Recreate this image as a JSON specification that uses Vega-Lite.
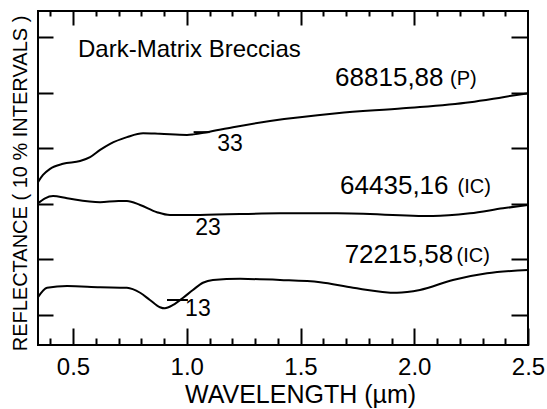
{
  "$schema": "https://vega.github.io/schema/vega-lite/v6.json",
  "autosize": {"type": "none"},
  "padding": {"left": 38, "top": 11, "right": 19, "bottom": 64},
  "width": 490,
  "height": 334,
  "background": "white",
  "config": {
    "font": "Liberation Sans",
    "view": {"stroke": "black", "strokeWidth": 2},
    "axis": {"domain": false, "grid": false, "tickColor": "black", "tickWidth": 2, "labelColor": "black", "titleColor": "black", "labelFont": "Liberation Sans", "titleFont": "Liberation Sans", "titleFontWeight": "normal"}
  },
  "datasets": {
    "curves": [
      {"series": "68815,88", "wl": 0.346, "r": 33.9},
      {"series": "68815,88", "wl": 0.368, "r": 35.2},
      {"series": "68815,88", "wl": 0.399, "r": 36.3},
      {"series": "68815,88", "wl": 0.456, "r": 37.2},
      {"series": "68815,88", "wl": 0.531, "r": 37.7},
      {"series": "68815,88", "wl": 0.575, "r": 38.4},
      {"series": "68815,88", "wl": 0.619, "r": 39.7},
      {"series": "68815,88", "wl": 0.663, "r": 40.8},
      {"series": "68815,88", "wl": 0.737, "r": 42.0},
      {"series": "68815,88", "wl": 0.808, "r": 42.7},
      {"series": "68815,88", "wl": 0.882, "r": 42.6},
      {"series": "68815,88", "wl": 1.001, "r": 42.4},
      {"series": "68815,88", "wl": 1.03, "r": 42.5},
      {"series": "68815,88", "wl": 1.089, "r": 42.9},
      {"series": "68815,88", "wl": 1.203, "r": 43.8},
      {"series": "68815,88", "wl": 1.366, "r": 44.9},
      {"series": "68815,88", "wl": 1.66, "r": 46.3},
      {"series": "68815,88", "wl": 1.951, "r": 47.2},
      {"series": "68815,88", "wl": 2.245, "r": 48.3},
      {"series": "68815,88", "wl": 2.39, "r": 49.2},
      {"series": "68815,88", "wl": 2.5, "r": 49.9},
      {"series": "64435,16", "wl": 0.346, "r": 30.1},
      {"series": "64435,16", "wl": 0.377, "r": 31.0},
      {"series": "64435,16", "wl": 0.412, "r": 31.4},
      {"series": "64435,16", "wl": 0.474, "r": 31.0},
      {"series": "64435,16", "wl": 0.619, "r": 30.3},
      {"series": "64435,16", "wl": 0.7, "r": 30.5},
      {"series": "64435,16", "wl": 0.737, "r": 30.5},
      {"series": "64435,16", "wl": 0.795, "r": 29.8},
      {"series": "64435,16", "wl": 0.869, "r": 28.5},
      {"series": "64435,16", "wl": 0.926, "r": 28.0},
      {"series": "64435,16", "wl": 1.058, "r": 28.0},
      {"series": "64435,16", "wl": 1.41, "r": 28.3},
      {"series": "64435,16", "wl": 1.66, "r": 28.3},
      {"series": "64435,16", "wl": 2.082, "r": 27.8},
      {"series": "64435,16", "wl": 2.245, "r": 28.3},
      {"series": "64435,16", "wl": 2.39, "r": 29.2},
      {"series": "64435,16", "wl": 2.5, "r": 29.8},
      {"series": "72215,58", "wl": 0.346, "r": 13.2},
      {"series": "72215,58", "wl": 0.386, "r": 14.9},
      {"series": "72215,58", "wl": 0.474, "r": 15.2},
      {"series": "72215,58", "wl": 0.619, "r": 15.0},
      {"series": "72215,58", "wl": 0.737, "r": 14.9},
      {"series": "72215,58", "wl": 0.795, "r": 14.0},
      {"series": "72215,58", "wl": 0.838, "r": 12.7},
      {"series": "72215,58", "wl": 0.882, "r": 11.4},
      {"series": "72215,58", "wl": 0.904, "r": 11.2},
      {"series": "72215,58", "wl": 0.94, "r": 11.8},
      {"series": "72215,58", "wl": 0.984, "r": 13.1},
      {"series": "72215,58", "wl": 1.027, "r": 14.5},
      {"series": "72215,58", "wl": 1.071, "r": 15.8},
      {"series": "72215,58", "wl": 1.115, "r": 16.3},
      {"series": "72215,58", "wl": 1.234, "r": 16.5},
      {"series": "72215,58", "wl": 1.41, "r": 16.3},
      {"series": "72215,58", "wl": 1.586, "r": 15.9},
      {"series": "72215,58", "wl": 1.731, "r": 14.9},
      {"series": "72215,58", "wl": 1.924, "r": 14.0},
      {"series": "72215,58", "wl": 2.025, "r": 14.5},
      {"series": "72215,58", "wl": 2.17, "r": 16.3},
      {"series": "72215,58", "wl": 2.32, "r": 17.5},
      {"series": "72215,58", "wl": 2.5, "r": 18.1}
    ],
    "labels": [
      {"text": "Dark-Matrix Breccias", "kind": "header", "wl": 0.522, "r": 57.7},
      {"text": "68815,88", "kind": "id", "wl": 1.652, "r": 52.6},
      {"text": "(P)", "kind": "suffix", "wl": 2.157, "r": 52.4},
      {"text": "64435,16", "kind": "id", "wl": 1.674, "r": 33.2},
      {"text": "(IC)", "kind": "suffix", "wl": 2.19, "r": 33.0},
      {"text": "72215,58", "kind": "id", "wl": 1.694, "r": 20.8},
      {"text": "(IC)", "kind": "suffix", "wl": 2.186, "r": 20.6},
      {"text": "33", "kind": "num", "wl": 1.19, "r": 40.8},
      {"text": "23", "kind": "num", "wl": 1.093, "r": 25.6},
      {"text": "13", "kind": "num", "wl": 1.049, "r": 11.1}
    ],
    "dashes": [
      {"wl": 0.913, "wl2": 1.005, "r": 12.7},
      {"wl": 1.03, "wl2": 1.1, "r": 42.9}
    ]
  },
  "resolve": {"scale": {"x": "shared", "y": "shared"}, "axis": {"x": "independent", "y": "independent"}},
  "layer": [
    {
      "data": {"name": "curves"},
      "mark": {"type": "line", "interpolate": "monotone", "stroke": "black", "strokeWidth": 2},
      "encoding": {
        "x": {"field": "wl", "type": "quantitative", "scale": {"domain": [0.346, 2.5], "nice": false, "zero": false},
          "axis": {"orient": "bottom", "values": [0.5, 1.0, 1.5, 2.0, 2.5], "format": ".1f", "tickSize": -17, "labelPadding": 27, "labelBaseline": "top", "labelFontSize": 24, "labelFlush": false, "title": "WAVELENGTH (µm)", "titleFontSize": 25, "titleX": 262, "titleY": 49, "titleBaseline": "middle", "titleAlign": "center"}},
        "y": {"field": "r", "type": "quantitative", "scale": {"domain": [4.6, 64.7], "nice": false, "zero": false},
          "axis": {"orient": "left", "values": [10, 20, 30, 40, 50, 60], "tickSize": -15, "labels": false, "title": "REFLECTANCE ( 10 % INTERVALS )", "titleFontSize": 20, "titleAngle": -90, "titleX": -18, "titleY": 172, "titleBaseline": "middle", "titleAlign": "center"}},
        "detail": {"field": "series"}
      }
    },
    {
      "data": {"name": "labels"},
      "transform": [{"filter": "datum.kind === 'id'"}],
      "mark": {"type": "text", "align": "left", "baseline": "middle", "fontSize": 26, "color": "black"},
      "encoding": {
        "x": {"field": "wl", "type": "quantitative", "scale": {"domain": [0.346, 2.5], "nice": false, "zero": false},
          "axis": {"orient": "top", "values": [0.5, 1.0, 1.5, 2.0], "tickSize": -14, "labels": false, "title": null}},
        "y": {"field": "r", "type": "quantitative", "scale": {"domain": [4.6, 64.7], "nice": false, "zero": false},
          "axis": {"orient": "right", "values": [10, 20, 30, 40, 50, 60], "tickSize": -17, "labels": false, "title": null}},
        "text": {"field": "text"}
      }
    },
    {
      "data": {"name": "labels"},
      "transform": [{"filter": "datum.kind === 'suffix'"}],
      "mark": {"type": "text", "align": "left", "baseline": "middle", "fontSize": 20, "color": "black"},
      "encoding": {
        "x": {"field": "wl", "type": "quantitative", "scale": {"domain": [0.346, 2.5], "nice": false, "zero": false},
          "axis": {"orient": "bottom", "values": [0.4, 0.6, 0.7, 0.8, 0.9, 1.1, 1.2, 1.3, 1.4, 1.6, 1.7, 1.8, 1.9, 2.1, 2.2, 2.3, 2.4], "tickSize": -7, "labels": false, "title": null}},
        "y": {"field": "r", "type": "quantitative", "scale": {"domain": [4.6, 64.7], "nice": false, "zero": false}, "axis": null},
        "text": {"field": "text"}
      }
    },
    {
      "data": {"name": "labels"},
      "transform": [{"filter": "datum.kind === 'num'"}],
      "mark": {"type": "text", "align": "center", "baseline": "middle", "fontSize": 23, "color": "black"},
      "encoding": {
        "x": {"field": "wl", "type": "quantitative", "scale": {"domain": [0.346, 2.5], "nice": false, "zero": false},
          "axis": {"orient": "top", "values": [0.4, 0.6, 0.7, 0.8, 0.9, 1.1, 1.2, 1.3, 1.4, 1.6, 1.7, 1.8, 1.9, 2.1, 2.2, 2.3, 2.4], "tickSize": -5, "labels": false, "title": null}},
        "y": {"field": "r", "type": "quantitative", "scale": {"domain": [4.6, 64.7], "nice": false, "zero": false}, "axis": null},
        "text": {"field": "text"}
      }
    },
    {
      "data": {"name": "labels"},
      "transform": [{"filter": "datum.kind === 'header'"}],
      "mark": {"type": "text", "align": "left", "baseline": "middle", "fontSize": 24, "color": "black"},
      "encoding": {
        "x": {"field": "wl", "type": "quantitative", "scale": {"domain": [0.346, 2.5], "nice": false, "zero": false}, "axis": null},
        "y": {"field": "r", "type": "quantitative", "scale": {"domain": [4.6, 64.7], "nice": false, "zero": false}, "axis": null},
        "text": {"field": "text"}
      }
    },
    {
      "data": {"name": "dashes"},
      "mark": {"type": "rule", "stroke": "black", "strokeWidth": 2},
      "encoding": {
        "x": {"field": "wl", "type": "quantitative", "scale": {"domain": [0.346, 2.5], "nice": false, "zero": false}, "axis": null},
        "x2": {"field": "wl2"},
        "y": {"field": "r", "type": "quantitative", "scale": {"domain": [4.6, 64.7], "nice": false, "zero": false}, "axis": null}
      }
    }
  ]
}
